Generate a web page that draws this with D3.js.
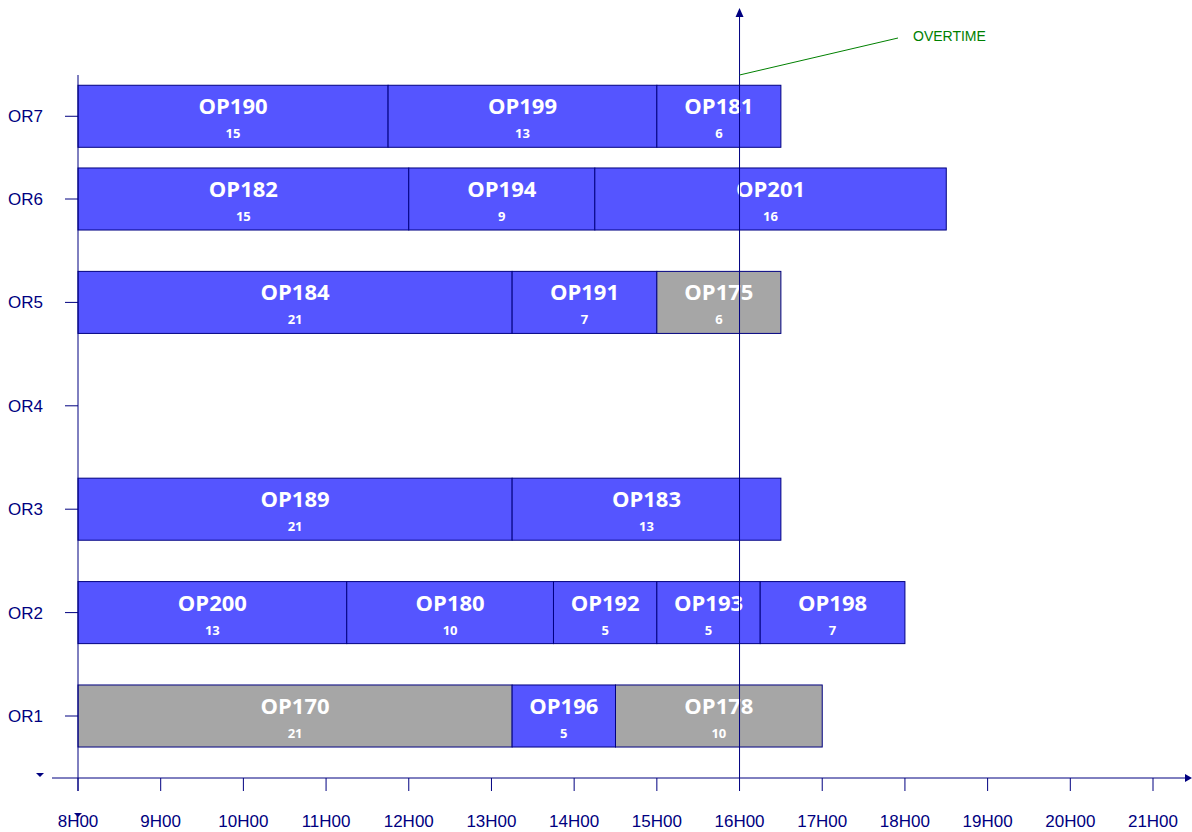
<!DOCTYPE html>
<html>
<head>
<meta charset="utf-8">
<script src="https://cdn.jsdelivr.net/npm/d3@7"></script>
<style>
  body { margin: 0; background: #fff; }
  svg { display: block; }
</style>
</head>
<body>
<script>
'use strict';

// rooms, position of each row on the y scale (OR7 is squeezed in the original)
var rooms = ['OR1', 'OR2', 'OR3', 'OR4', 'OR5', 'OR6', 'OR7'];
var roomPos = [1, 2, 3, 4, 5, 6, 6.8];

// operations: room, start hour, end hour, label, quarter count, done (grey)
var opRoom  = ['OR7', 'OR7', 'OR7', 'OR6', 'OR6', 'OR6', 'OR5', 'OR5', 'OR5', 'OR3', 'OR3',
               'OR2', 'OR2', 'OR2', 'OR2', 'OR2', 'OR1', 'OR1', 'OR1'];
var opStart = [8, 11.75, 15, 8, 12, 14.25, 8, 13.25, 15, 8, 13.25,
               8, 11.25, 13.75, 15, 16.25, 8, 13.25, 14.5];
var opEnd   = [11.75, 15, 16.5, 12, 14.25, 18.5, 13.25, 15, 16.5, 13.25, 16.5,
               11.25, 13.75, 15, 16.25, 18, 13.25, 14.5, 17];
var opName  = ['OP190', 'OP199', 'OP181', 'OP182', 'OP194', 'OP201', 'OP184', 'OP191', 'OP175', 'OP189', 'OP183',
               'OP200', 'OP180', 'OP192', 'OP193', 'OP198', 'OP170', 'OP196', 'OP178'];
var opCount = [15, 13, 6, 15, 9, 16, 21, 7, 6, 21, 13,
               13, 10, 5, 5, 7, 21, 5, 10];
var opDone  = [0, 0, 0, 0, 0, 0, 0, 0, 1, 0, 0,
               0, 0, 0, 0, 0, 1, 0, 1];

var hours = [8, 9, 10, 11, 12, 13, 14, 15, 16, 17, 18, 19, 20, 21];
var overtimeHour = 16;

var navy = '#000080';
var W = 1192, H = 832;

var svg = d3.select('body').append('svg').attr('width', W).attr('height', H);

var x = d3.scaleLinear().domain([8, 21]).range([78, 1153]);
var y = d3.scaleLinear().domain([1, 6]).range([716, 199]);
var barH = y(0) - y(0.6);
var rowY = function (r) { return y(roomPos[rooms.indexOf(r)]); };

var ops = opName.map(function (n, i) {
  return { name: n, room: opRoom[i], start: opStart[i], end: opEnd[i], count: opCount[i], done: opDone[i] };
});

// bars
var g = svg.append('g');
var bar = g.selectAll('.op').data(ops).enter().append('g').attr('class', 'op');

bar.append('rect')
  .attr('x', function (d) { return x(d.start); })
  .attr('y', function (d) { return rowY(d.room) - barH / 2; })
  .attr('width', function (d) { return x(d.end) - x(d.start); })
  .attr('height', barH)
  .attr('fill', function (d) { return d.done ? '#a6a6a6' : '#5555ff'; })
  .attr('stroke', navy)
  .attr('stroke-width', 1);

bar.append('text')
  .attr('x', function (d) { return (x(d.start) + x(d.end)) / 2; })
  .attr('y', function (d) { return rowY(d.room) - 2; })
  .attr('text-anchor', 'middle')
  .style('font', 'bold 22px "Open Sans", sans-serif')
  .attr('fill', '#fff')
  .text(function (d) { return d.name; });

bar.append('text')
  .attr('x', function (d) { return (x(d.start) + x(d.end)) / 2; })
  .attr('y', function (d) { return rowY(d.room) + 22; })
  .attr('text-anchor', 'middle')
  .style('font', 'bold 13px "Open Sans", sans-serif')
  .attr('fill', '#fff')
  .text(function (d) { return d.count; });

// x axis
var axisY = 778;
svg.append('line')
  .attr('x1', 52).attr('x2', 1186).attr('y1', axisY).attr('y2', axisY)
  .attr('stroke', navy).attr('stroke-width', 1);
svg.append('path')
  .attr('d', 'M1192,' + axisY + 'l-7,-4l0,8z').attr('fill', navy);

svg.selectAll('.xtick').data(hours).enter().append('line')
  .attr('x1', function (d) { return x(d); }).attr('x2', function (d) { return x(d); })
  .attr('y1', axisY).attr('y2', axisY + 13)
  .attr('stroke', navy);

svg.selectAll('.xlabel').data(hours).enter().append('text')
  .attr('x', function (d) { return x(d); })
  .attr('y', 827)
  .attr('text-anchor', 'middle')
  .style('font', '17px "Liberation Sans", Arial, sans-serif')
  .attr('fill', navy)
  .text(function (d) { return d + 'H00'; });

// y axis
svg.append('line')
  .attr('x1', x(8)).attr('x2', x(8)).attr('y1', 75).attr('y2', 791)
  .attr('stroke', navy);

svg.selectAll('.ytick').data(rooms).enter().append('line')
  .attr('x1', 65).attr('x2', x(8))
  .attr('y1', function (d) { return rowY(d); }).attr('y2', function (d) { return rowY(d); })
  .attr('stroke', navy);

svg.selectAll('.ylabel').data(rooms).enter().append('text')
  .attr('x', 8)
  .attr('y', function (d) { return rowY(d) + 6; })
  .style('font', '17px "Liberation Sans", Arial, sans-serif')
  .attr('fill', navy)
  .text(function (d) { return d; });

// stray axis arrowheads
svg.append('path').attr('d', 'M36,773l8,0l-4,4z').attr('fill', navy);
svg.append('path').attr('d', 'M74,813l8,0l-4,4z').attr('fill', navy);

// overtime marker
var ox = x(overtimeHour);
svg.append('line')
  .attr('x1', ox).attr('x2', ox).attr('y1', 16).attr('y2', axisY)
  .attr('stroke', navy).attr('stroke-width', 1);
svg.append('path')
  .attr('d', 'M' + ox + ',8l-4,9l8,0z').attr('fill', navy);

svg.append('line')
  .attr('x1', ox).attr('y1', 75).attr('x2', 898).attr('y2', 38)
  .attr('stroke', 'green').attr('stroke-width', 1);
svg.append('text')
  .attr('x', 913).attr('y', 41)
  .style('font', '14px "Liberation Sans", Arial, sans-serif')
  .attr('fill', 'green')
  .text('OVERTIME');
</script>
</body>
</html>
